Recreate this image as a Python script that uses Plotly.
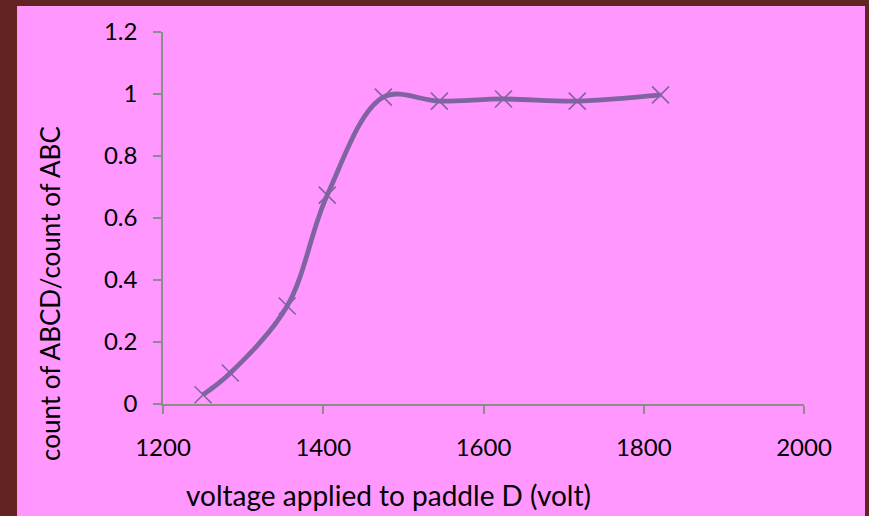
import plotly.graph_objects as go

# Paddle D efficiency scan
voltage = [1250, 1284, 1355, 1405, 1475, 1545, 1625, 1717, 1821]
ratio = [0.03, 0.10, 0.316, 0.674, 0.99, 0.977, 0.984, 0.977, 0.997]

x_ticks = [1200, 1400, 1600, 1800, 2000]
y_ticks = [0, 0.2, 0.4, 0.6, 0.8, 1, 1.2]
y_tick_text = ["0", "0.2", "0.4", "0.6", "0.8", "1", "1.2"]

x_title = "voltage applied to paddle D (volt)"
y_title = "count of ABCD/count of ABC"

W, H = 869, 516
ML, MR, MT, MB = 163, 65, 32, 112
PW, PH = W - ML - MR, H - MT - MB


def px_x(p):
    return (p - ML) / PW


def px_y(p):
    return (H - MB - p) / PH


BORDER = "#622423"
PINK = "#FF97FF"
LINE = "#8064A2"
AXIS = "#8C8C8C"
FONT = "Lato, 'Open Sans', sans-serif"

fig = go.Figure()
fig.add_trace(go.Scatter(
    x=voltage, y=ratio,
    mode="lines+markers",
    line=dict(color=LINE, width=4.8, shape="spline", smoothing=1),
    marker=dict(symbol="x-thin-open", size=17, color=LINE,
                line=dict(color=LINE, width=1.6)),
    showlegend=False,
    hoverinfo="x+y",
))

# pink slide panel behind the chart, inside the dark frame
fig.add_shape(
    type="rect", xref="paper", yref="paper", layer="below",
    x0=px_x(17), x1=px_x(865), y0=px_y(520), y1=px_y(6),
    fillcolor=PINK, line=dict(width=0),
)

# axis titles placed freely, as in the slide layout
fig.add_annotation(
    text=x_title, xref="paper", yref="paper",
    x=px_x(388), y=px_y(495), xanchor="center", yanchor="middle",
    showarrow=False, font=dict(size=28),
)
fig.add_annotation(
    text=y_title, xref="paper", yref="paper", textangle=-90,
    x=px_x(50), y=px_y(294), xanchor="center", yanchor="middle",
    showarrow=False, font=dict(size=26),
)

fig.update_layout(
    width=W, height=H,
    margin=dict(l=ML, r=MR, t=MT, b=MB, pad=0),
    paper_bgcolor=BORDER,
    plot_bgcolor=PINK,
    font=dict(family=FONT, size=24, color="black"),
    xaxis=dict(
        range=[1200, 2000], tickvals=x_ticks, ticktext=[str(v) for v in x_ticks],
        showgrid=False, zeroline=False,
        showline=True, linecolor=AXIS, linewidth=1.5,
        ticks="outside", ticklen=8, tickwidth=1.5, tickcolor=AXIS,
        ticklabelstandoff=13,
    ),
    yaxis=dict(
        range=[0, 1.2], tickvals=y_ticks, ticktext=y_tick_text,
        showgrid=False, zeroline=False,
        showline=True, linecolor=AXIS, linewidth=1.5,
        ticks="outside", ticklen=8, tickwidth=1.5, tickcolor=AXIS,
        ticklabelstandoff=11,
    ),
)

fig.write_html("out.html")
